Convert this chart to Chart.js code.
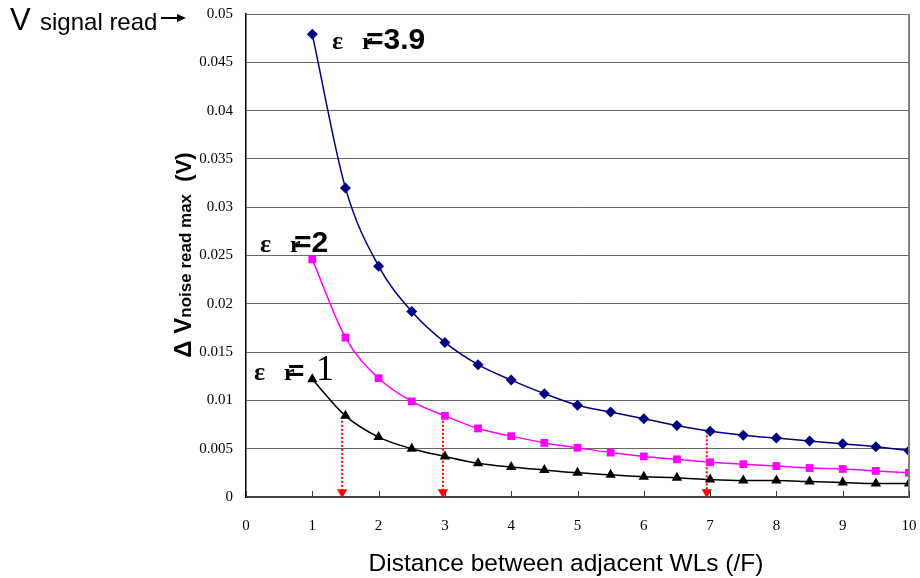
<!DOCTYPE html>
<html><head><meta charset="utf-8">
<script src="https://cdn.jsdelivr.net/npm/chart.js@4/dist/chart.umd.min.js"></script>
<style>html,body{margin:0;padding:0;background:#fff}#wrap{width:920px;height:578px;position:relative}</style>
</head><body><div id="wrap"><canvas id="c" width="920" height="578"></canvas></div>
<script>
const distances = [1, 1.5, 2, 2.5, 3, 3.5, 4, 4.5, 5, 5.5, 6, 6.5, 7, 7.5, 8, 8.5, 9, 9.5, 10];
const eps39 = [0.0479, 0.0320, 0.0239, 0.0192, 0.0160, 0.0137, 0.0121, 0.0107, 0.0095, 0.0088, 0.0081, 0.0074, 0.0068, 0.0064, 0.0061, 0.0058, 0.0055, 0.0052, 0.0048];
const eps2 = [0.0246, 0.0165, 0.0123, 0.0099, 0.0084, 0.0071, 0.0063, 0.0056, 0.0051, 0.0046, 0.0042, 0.0039, 0.0036, 0.0034, 0.0032, 0.0030, 0.0029, 0.0027, 0.0025];
const eps1 = [0.0122, 0.0084, 0.0062, 0.0050, 0.0042, 0.0035, 0.0031, 0.0028, 0.0025, 0.0023, 0.0021, 0.0020, 0.0018, 0.0017, 0.0017, 0.0016, 0.0015, 0.0014, 0.0014];
const xTickLabels = ['0','1','2','3','4','5','6','7','8','9','10'];
const yTickLabels = ['0','0.005','0.01','0.015','0.02','0.025','0.03','0.035','0.04','0.045','0.05'];
const arrowX = [1.45, 2.97, 6.95];
const arrowFrom = [0.0083, 0.0083, 0.0068];
const arrowTo = [0.0005, 0.0005, 0.0005];

const pts = (ys) => distances.map((x, i) => ({x, y: ys[i]}));
const series = [
  {data: eps39, color: '#000080', style: 'rectRot', r: 5.5},
  {data: eps2, color: '#FF00FF', style: 'rect', r: 5.5},
  {data: eps1, color: '#000000', style: 'triangle', r: 6}
];
const datasets = series.map(s => ({
  data: pts(s.data), borderColor: s.color, backgroundColor: s.color,
  pointStyle: s.style, pointRadius: s.r, pointBorderWidth: 0,
  borderWidth: 1.5, cubicInterpolationMode: 'monotone', fill: false
}));
arrowX.forEach((x, i) => {
  datasets.push({
    data: [{x, y: arrowFrom[i]}, {x, y: arrowTo[i]}],
    borderColor: '#FF0000', backgroundColor: '#FF0000', borderWidth: 2,
    borderDash: [2, 2], pointStyle: 'triangle', pointRotation: 180,
    pointRadius: [0, 6], pointBorderWidth: 0, fill: false
  });
});

const deco = {
  id: 'deco',
  afterDraw(chart) {
    const ctx = chart.ctx, a = chart.chartArea, xs = chart.scales.x;
    ctx.save();
    // right border
    ctx.strokeStyle = '#808080'; ctx.lineWidth = 2;
    ctx.beginPath(); ctx.moveTo(a.right, a.top); ctx.lineTo(a.right, a.bottom); ctx.stroke();
    // inner x ticks
    ctx.strokeStyle = '#333'; ctx.lineWidth = 1;
    for (let v = 0; v <= 10; v++) {
      const px = Math.round(xs.getPixelForValue(v)) + 0.5;
      ctx.beginPath(); ctx.moveTo(px, a.bottom); ctx.lineTo(px, a.bottom - 6); ctx.stroke();
    }
    ctx.fillStyle = '#000'; ctx.textBaseline = 'alphabetic'; ctx.textAlign = 'left';
    // V signal read
    ctx.font = '31px "Liberation Sans", Arial'; ctx.fillText('V', 10, 30);
    ctx.font = '24px "Liberation Sans", Arial'; ctx.fillText('signal read', 40, 30);
    ctx.strokeStyle = '#000'; ctx.lineWidth = 2;
    ctx.beginPath(); ctx.moveTo(161, 18); ctx.lineTo(180, 18); ctx.stroke();
    ctx.beginPath(); ctx.moveTo(186, 18); ctx.lineTo(177, 14); ctx.lineTo(177, 22); ctx.closePath(); ctx.fill();
    // epsilon labels
    const eps = (x, y, tail, serifTail) => {
      ctx.font = 'bold 26px "Liberation Serif"'; ctx.fillText('\u03B5', x, y);
      ctx.font = 'bold 24px "Liberation Serif"'; ctx.fillText('r', x + 30, y);
      if (serifTail) {
        ctx.font = 'bold 28px "Liberation Sans", Arial'; ctx.fillText('=', x + 34, y);
        ctx.font = '36px "Liberation Serif"'; ctx.fillText(tail, x + 62, y);
      } else {
        ctx.font = 'bold 30px "Liberation Sans", Arial'; ctx.fillText('=' + tail, x + 34, y);
      }
    };
    eps(332, 49, '3.9', false);
    eps(260, 252, '2', false);
    eps(254, 380, '1', true);
    // x title
    ctx.textAlign = 'center';
    ctx.font = '24.5px "Liberation Sans", Arial';
    ctx.fillText('Distance between adjacent WLs (/F)', 566, 571);
    ctx.textAlign = 'left';
    // y title
    ctx.save();
    ctx.translate(191, 255); ctx.rotate(-Math.PI / 2);
    const parts = [['\u0394 V', 'bold 24px "Liberation Sans", Arial'], ['noise read max', 'bold 17px "Liberation Sans", Arial'], ['  (V)', 'bold 22px "Liberation Sans", Arial']];
    let tw = 0; parts.forEach(p => { ctx.font = p[1]; tw += ctx.measureText(p[0]).width; });
    let cx = -tw / 2;
    parts.forEach(p => { ctx.font = p[1]; ctx.fillText(p[0], cx, 0); cx += ctx.measureText(p[0]).width; });
    ctx.restore();
    ctx.restore();
  }
};

new Chart(document.getElementById('c'), {
  type: 'line',
  data: {datasets},
  options: {
    responsive: false, devicePixelRatio: 1, animation: false,
    layout: {padding: {top: 14, right: 11, left: 0, bottom: 0}},
    plugins: {legend: {display: false}, tooltip: {enabled: false}},
    scales: {
      x: {
        type: 'linear', min: 0, max: 10,
        afterFit: s => { s.height = 81; s.paddingLeft = 0; s.paddingRight = 0; },
        ticks: {stepSize: 1, padding: 20, color: '#000', font: {family: '"Liberation Serif"', size: 15},
          callback: (v, i) => xTickLabels[i]},
        grid: {drawOnChartArea: false, drawTicks: false},
        border: {display: true, color: '#444', width: 2}
      },
      y: {
        min: 0, max: 0.05,
        afterFit: s => { s.width = 246; s.paddingTop = 0; s.paddingBottom = 0; },
        ticks: {stepSize: 0.005, padding: 13, color: '#000', font: {family: '"Liberation Serif"', size: 15},
          callback: (v, i) => yTickLabels[i]},
        grid: {color: '#666', lineWidth: 1, drawTicks: false},
        border: {display: true, color: '#000', width: 1.5}
      }
    }
  },
  plugins: [deco]
});
</script>
</body></html>
